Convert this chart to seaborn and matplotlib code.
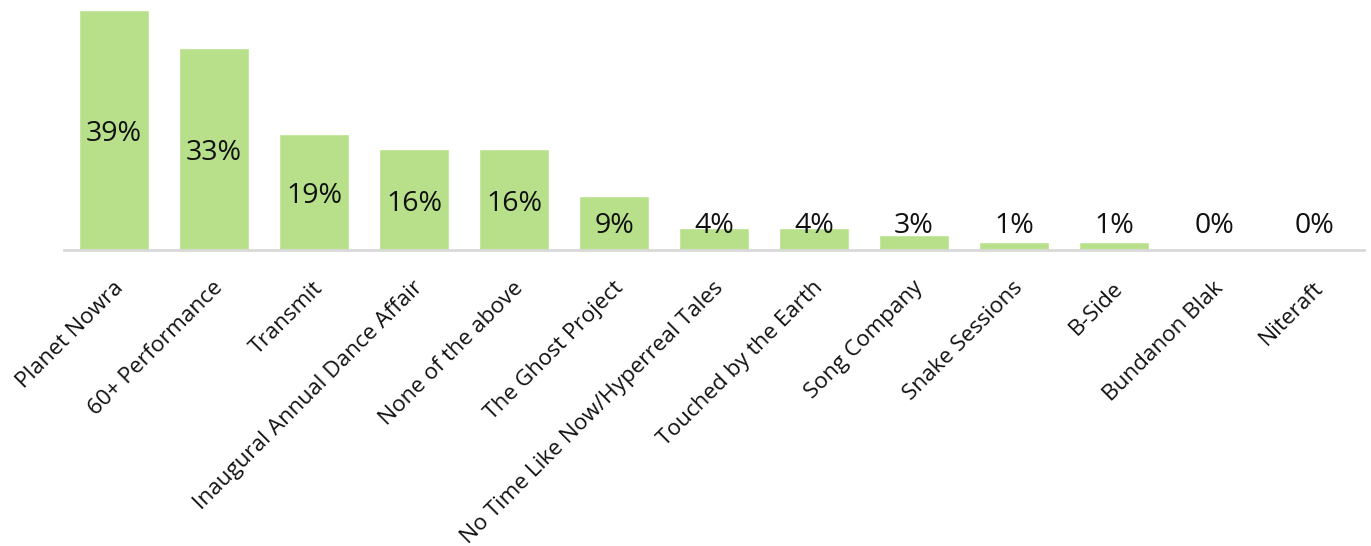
import matplotlib
matplotlib.use("Agg")
import matplotlib.pyplot as plt
import matplotlib.transforms as mtransforms
import seaborn as sns
import pandas as pd

categories = ["Planet Nowra", "60+ Performance", "Transmit", "Inaugural Annual Dance Affair",
              "None of the above", "The Ghost Project", "No Time Like Now/Hyperreal Tales",
              "Touched by the Earth", "Song Company", "Snake Sessions", "B-Side",
              "Bundanon Blak", "Niteraft"]
values = [39.0, 32.8, 18.9, 16.4, 16.4, 8.8, 3.6, 3.6, 2.5, 1.3, 1.3, 0.0, 0.0]
labels = ["39%", "33%", "19%", "16%", "16%", "9%", "4%", "4%", "3%", "1%", "1%", "0%", "0%"]

sns.set_theme(style="white")
plt.rcParams["font.family"] = ["Open Sans", "DejaVu Sans"]

df = pd.DataFrame({"cat": categories, "val": values})

fig = plt.figure(figsize=(13.71, 5.46), dpi=100)
ax = fig.add_axes([64/1371, 1 - 250/546, 1300/1371, 246/546])
sns.barplot(data=df, x="cat", y="val", color="#B8E08A", saturation=1, width=0.7, ax=ax)

for i, (v, lab) in enumerate(zip(values, labels)):
    ax.text(i, max(v / 2, 4.6) - 0.65, lab, ha="center", va="center", fontsize=20.5, color="#111111")

ax.set_xlim(-0.5, len(categories) - 0.5)
ax.set_ylim(0, 40)
ax.set_xlabel("")
ax.set_ylabel("")
ax.set_yticks([])
for s in ["left", "right", "top"]:
    ax.spines[s].set_visible(False)
ax.spines["bottom"].set_color("#D9D9D9")
ax.spines["bottom"].set_linewidth(2)
ax.tick_params(axis="x", length=0, pad=25)
plt.setp(ax.get_xticklabels(), rotation=45, ha="right", va="center",
         rotation_mode="anchor", fontsize=16.2, color="#111111")
offset = mtransforms.ScaledTranslation(6 / 100, 0, fig.dpi_scale_trans)
for lbl in ax.get_xticklabels():
    lbl.set_transform(lbl.get_transform() + offset)

fig.savefig("out.png", dpi=100)
